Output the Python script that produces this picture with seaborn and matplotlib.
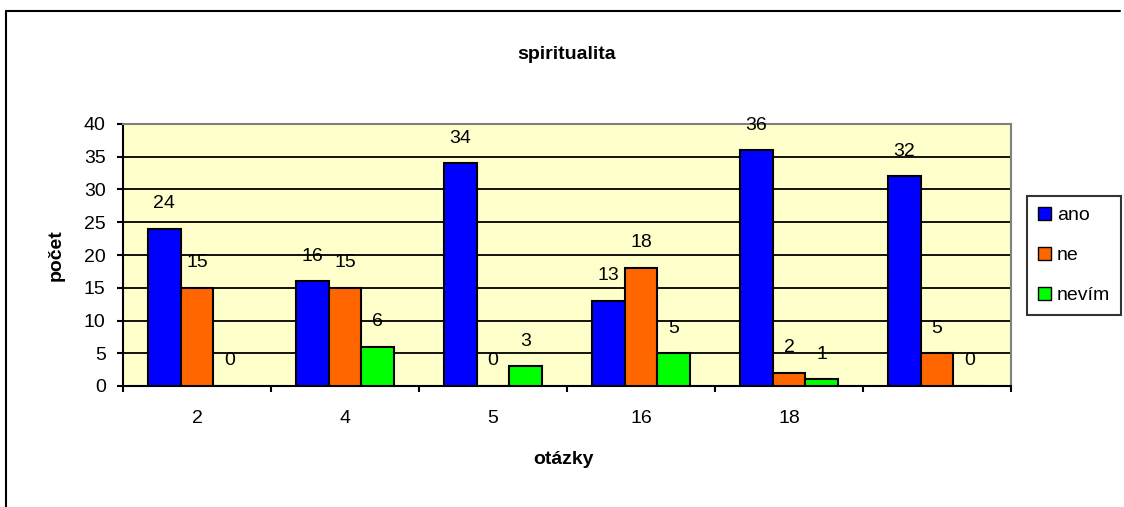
import pandas as pd
import seaborn as sns
import matplotlib
import matplotlib.pyplot as plt
from matplotlib.lines import Line2D

matplotlib.use("Agg")

# ----------------------------
# Data
otazky = ["2", "4", "5", "16", "18", ""]
odpovedi = ["ano", "ne", "nevím"]
ano = [24, 16, 34, 13, 36, 32]
ne = [15, 15, 0, 18, 2, 5]
nevim = [0, 6, 3, 5, 1, 0]
barvy = ["#0000FF", "#FF6600", "#00FF00"]
# ----------------------------

rows = []
for i, q in enumerate(otazky):
    for odp, vals in zip(odpovedi, [ano, ne, nevim]):
        rows.append({"otazka": q, "odpoved": odp, "pocet": vals[i]})
df = pd.DataFrame(rows)

sns.set_theme(style="white")
plt.rcParams["font.family"] = ["Liberation Sans", "DejaVu Sans"]
plt.rcParams["text.color"] = "black"
plt.rcParams["xtick.color"] = "black"
plt.rcParams["ytick.color"] = "black"
plt.rcParams["axes.labelcolor"] = "black"
fs = 14

fig = plt.figure(figsize=(11.24, 5.07), dpi=100)
ax = fig.add_axes([123 / 1124, 1 - 386 / 507, 888 / 1124, 262 / 507])
ax.set_facecolor("#FFFFCC")

sns.barplot(data=df, x="otazka", y="pocet", hue="odpoved", order=otazky,
            hue_order=odpovedi, palette=barvy, width=3 / 4.5,
            edgecolor="black", linewidth=1.5, saturation=1, ax=ax, zorder=3)

for cont in ax.containers:
    ax.bar_label(cont, padding=12, fontsize=fs, color="black")

ax.set_xlim(-0.5, len(otazky) - 0.5)
ax.set_ylim(0, 40)
ax.set_yticks(range(0, 41, 5))
ax.yaxis.grid(True, color="black", linewidth=1.3)
ax.set_axisbelow(True)

# category boundaries as tick marks
ax.set_xticks([i - 0.5 for i in range(len(otazky) + 1)], minor=True)
ax.tick_params(axis="x", which="minor", length=4.5, width=1.5, color="black", direction="out", bottom=True)
ax.tick_params(axis="x", which="major", length=0, pad=17, labelsize=fs, labelcolor="black")
ax.tick_params(axis="y", length=4.5, width=1.5, color="black", direction="out", left=True, pad=8,
               labelsize=fs, labelcolor="black")

for s in ["left", "bottom"]:
    ax.spines[s].set_color("black")
    ax.spines[s].set_linewidth(1.5)
for s in ["top", "right"]:
    ax.spines[s].set_color("#808080")
    ax.spines[s].set_linewidth(1.5)

ax.set_xlabel("")
ax.set_ylabel("")
ax.text(0.4955, -0.282, "otázky", transform=ax.transAxes, ha="center", va="center",
        fontsize=fs, fontweight="bold", color="black")
ax.text(-0.0755, 0.5, "počet", transform=ax.transAxes, ha="center", va="center",
        rotation=90, fontsize=fs, fontweight="bold", color="black")
ax.text(0.5, 1.265, "spiritualita", transform=ax.transAxes, ha="center", va="center",
        fontsize=fs, fontweight="bold", color="black")

leg = ax.legend(loc="upper left", bbox_to_anchor=(1027 / 1124, 1 - 196 / 507),
                bbox_transform=fig.transFigure, frameon=True, fancybox=False,
                fontsize=fs, handlelength=0.7, handleheight=0.7, handletextpad=0.3,
                labelspacing=1.15, borderpad=0.55, borderaxespad=0)
leg.get_frame().set_edgecolor("black")
leg.get_frame().set_linewidth(1.5)
for t in leg.get_texts():
    t.set_color("black")
for h in leg.legend_handles:
    h.set_edgecolor("black")
    h.set_linewidth(1)

# outer chart frame
fig.add_artist(Line2D([5.5 / 1124, 5.5 / 1124], [0, 1 - 10.5 / 507], transform=fig.transFigure,
                      color="black", linewidth=1.5))
fig.add_artist(Line2D([5.5 / 1124, 1120 / 1124], [1 - 10.5 / 507, 1 - 10.5 / 507],
                      transform=fig.transFigure, color="black", linewidth=1.5))

fig.savefig("out.png", dpi=100)
